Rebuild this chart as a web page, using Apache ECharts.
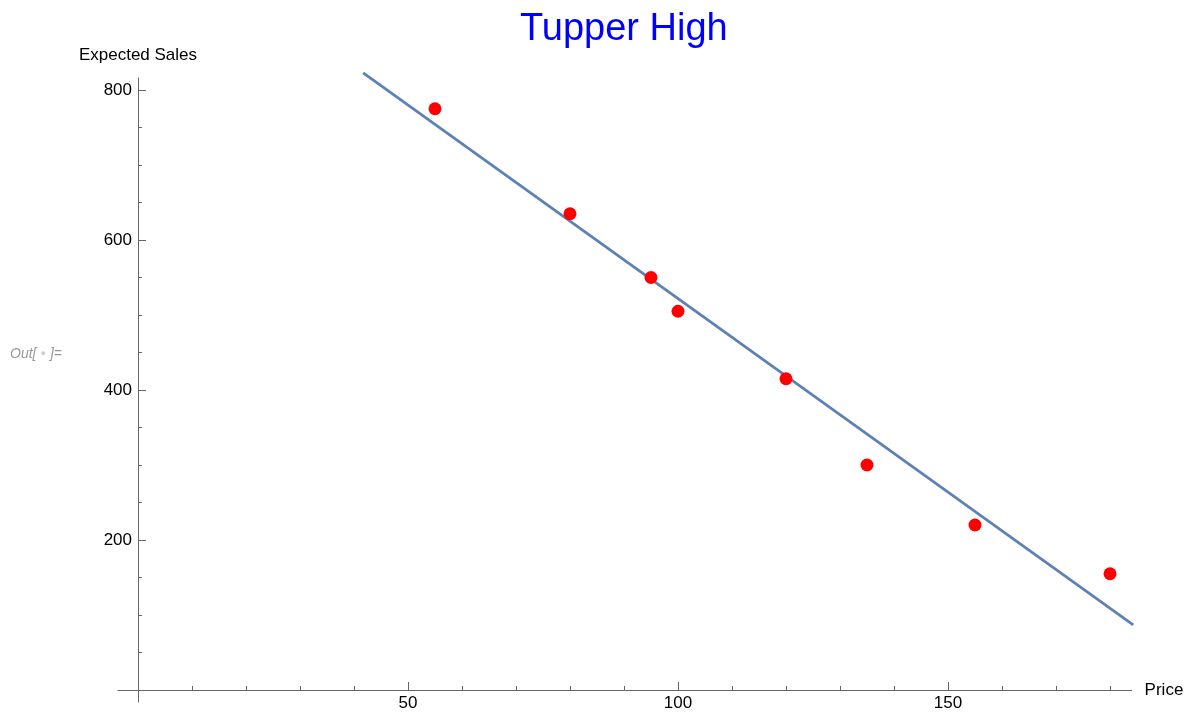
<html>

<head>
    <meta charset="utf-8" />
</head>

<body style="margin:0">
    <div id="chart" style="width:1188px;height:713px"></div>
    <script src="https://cdn.jsdelivr.net/npm/echarts@6/dist/echarts.min.js"></script>
    <script>
        // price / expected sales points
        var price = [55, 80, 95, 100, 120, 135, 155, 180];
        var sales = [775, 635, 550, 505, 415, 300, 220, 155];
        // fitted line, ends
        var fitX = [41.7, 184.3];
        var fitY = [822.7, 86.7];
        // ticks
        var xMajor = [50, 100, 150];
        var xMinor = [10, 20, 30, 40, 60, 70, 80, 90, 110, 120, 130, 140, 160, 170, 180];
        var yMajor = [200, 400, 600, 800];
        var yMinor = [50, 100, 150, 250, 300, 350, 450, 500, 550, 650, 700, 750];

        var font = 'Liberation Sans, Arial, sans-serif';
        var axisColor = '#666';

        function pairs(xs, ys) {
            return xs.map(function (x, i) { return [x, ys[i]]; });
        }

        var chart = echarts.init(document.getElementById('chart'));
        var xRange = { min: -3.7, max: 184 };
        var yRange = { min: -16, max: 816 };

        var option = {
            animation: false,
            title: {
                text: 'Tupper High',
                left: 515,
                top: 6,
                textStyle: { color: '#0000ff', fontSize: 38, fontWeight: 'normal', fontFamily: font }
            },
            grid: { left: 118, right: 56.4, top: 78, bottom: 11, outerBoundsMode: 'none', containLabel: false },
            xAxis: [
                {
                    type: 'value', position: 'bottom', min: xRange.min, max: xRange.max,
                    name: 'Price', nameLocation: 'end', nameGap: 13,
                    nameTextStyle: { color: '#000', fontSize: 17, fontFamily: font },
                    axisLine: { onZero: true, onZeroAxisIndex: 0, lineStyle: { color: axisColor, width: 1 } },
                    axisTick: { show: true, inside: true, length: 4, customValues: xMinor, lineStyle: { color: axisColor } },
                    axisLabel: { customValues: xMajor, color: '#000', fontSize: 17, fontFamily: font, margin: -7 },
                    splitLine: { show: false }
                },
                {
                    type: 'value', position: 'bottom', min: xRange.min, max: xRange.max,
                    axisLine: { show: false, onZero: true, onZeroAxisIndex: 0 },
                    axisTick: { show: true, inside: true, length: 8, customValues: xMajor, lineStyle: { color: axisColor } },
                    axisLabel: { show: false },
                    splitLine: { show: false }
                }
            ],
            yAxis: [
                {
                    type: 'value', position: 'left', min: yRange.min, max: yRange.max,
                    name: 'Expected Sales', nameLocation: 'end', nameGap: 14,
                    nameTextStyle: { color: '#000', fontSize: 17, fontFamily: font, align: 'center' },
                    axisLine: { show: true, onZero: true, onZeroAxisIndex: 0, lineStyle: { color: axisColor, width: 1 } },
                    axisTick: { show: true, inside: true, length: 4, customValues: yMinor, lineStyle: { color: axisColor } },
                    axisLabel: { customValues: yMajor, color: '#000', fontSize: 17, fontFamily: font, margin: -14 },
                    splitLine: { show: false }
                },
                {
                    type: 'value', position: 'left', min: yRange.min, max: yRange.max,
                    axisLine: { show: false, onZero: true, onZeroAxisIndex: 0 },
                    axisTick: { show: true, inside: true, length: 8, customValues: yMajor, lineStyle: { color: axisColor } },
                    axisLabel: { show: false },
                    splitLine: { show: false }
                }
            ],
            graphic: [
                {
                    type: 'text', left: 10, top: 347,
                    style: {
                        text: 'Out[{b|\u25CF}]=',
                        fill: '#999', fontSize: 14, fontStyle: 'italic', fontFamily: font,
                        rich: { b: { fill: '#ccc', fontSize: 9, padding: [0, 4, 0, 4] } }
                    }
                }
            ],
            series: [
                {
                    type: 'line',
                    data: pairs(fitX, fitY),
                    showSymbol: false,
                    clip: false,
                    lineStyle: { color: '#5e81b5', width: 2.8 },
                    z: 2
                },
                {
                    type: 'scatter',
                    data: pairs(price, sales),
                    symbolSize: 13,
                    itemStyle: { color: '#ff0000', opacity: 1 },
                    z: 3
                }
            ]
        };
        chart.setOption(option);
    </script>
</body>

</html>
